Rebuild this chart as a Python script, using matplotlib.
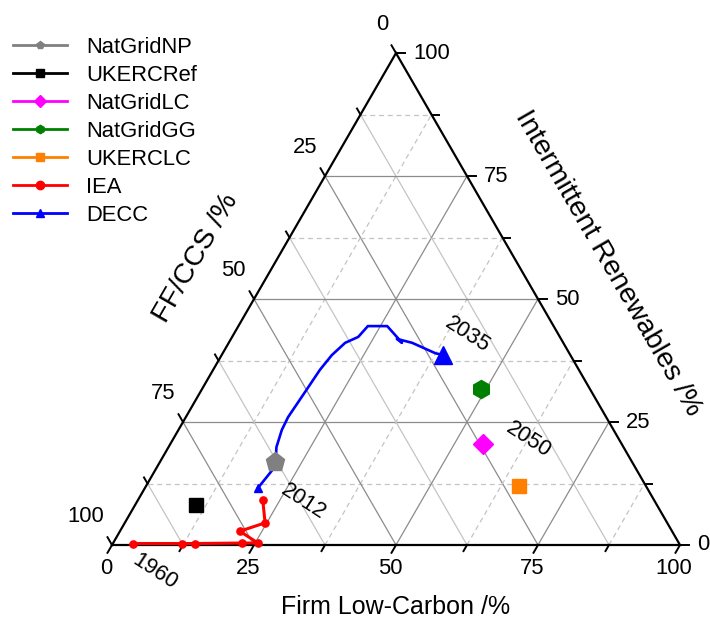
import numpy as np
import matplotlib
matplotlib.use("Agg")
import matplotlib.pyplot as plt

plt.rcParams['font.family'] = ['Liberation Sans', 'DejaVu Sans']

# ---------------- data (Firm Low-Carbon %, Intermittent Renewables %) ----------------
natgridnp_firm = [20.3]
natgridnp_renew = [16.9]
ukercref_firm = [10.7]
ukercref_renew = [8.1]
natgridlc_firm = [55.1]
natgridlc_renew = [20.5]
natgridgg_firm = [49.1]
natgridgg_renew = [31.7]
ukerclc_firm = [65.7]
ukerclc_renew = [12.0]
iea_firm = [3.6, 12.2, 14.4, 22.7, 25.5, 21.1, 24.7, 22.0]
iea_renew = [0.3, 0.3, 0.3, 0.4, 0.4, 2.8, 4.5, 9.1]
decc_firm = [19.9, 20.6, 20.0, 19.0, 18.2, 18.0, 18.5, 18.8, 19.4, 20.5, 22.2, 22.8,
             26.2, 29.0, 30.5, 29.2, 32.3, 37.4, 39.0]
decc_renew = [11.6, 15.2, 17.7, 19.9, 23.4, 26.0, 31.9, 35.6, 38.6, 41.1, 42.3, 44.5,
              44.5, 42.3, 41.1, 41.9, 41.1, 39.0, 38.6]

ticks = [0, 12.5, 25, 37.5, 50, 62.5, 75, 87.5, 100]
major_ticks = [0, 25, 50, 75, 100]
year_labels = ['1960', '2012', '2035', '2050']

S3 = np.sqrt(3) / 2


def tern(firm, renew):
    f = np.asarray(firm, dtype=float) / 100.0
    r = np.asarray(renew, dtype=float) / 100.0
    return f + r / 2.0, r * S3


# ---------------- figure ----------------
W, H = 710, 623
fig = plt.figure(figsize=(W / 100, H / 100), dpi=100)
ax = fig.add_axes([0, 0, 1, 1])
SC = 568.0
X0, Y0 = 112.0, 545.0
ax.set_xlim(-X0 / SC, (W - X0) / SC)
ax.set_ylim(-(H - Y0) / SC, Y0 / SC)
ax.axis('off')


def P(dx):
    return dx / SC


fs = 15.8   # 22 px
fs_title = 18.0
fs_title_rot = 20.5

major_c = '#8c8c8c'
minor_c = '#c4c4c4'

# grid lines
for v in ticks[1:-1]:
    major = (v % 25 == 0)
    col = major_c if major else minor_c
    # constant renewables (horizontal)
    x, y = tern([0, 100 - v], [v, v])
    ax.plot(x, y, color=col, lw=0.9, ls='-' if major else (0, (4, 3)), zorder=1)
    # constant firm
    x, y = tern([v, v], [0, 100 - v])
    ax.plot(x, y, color=col, lw=0.9, ls='-' if major else (0, (4, 3)), zorder=1)
    # constant fossil
    x, y = tern([100 - v, 0], [0, 100 - v])
    ax.plot(x, y, color=col, lw=0.9, ls='-', zorder=1)

# triangle edges
x, y = tern([0, 100, 0, 0], [0, 0, 100, 0])
ax.plot(x, y, color='black', lw=1.6, zorder=5, solid_joinstyle='miter')

# ticks
for v in ticks:
    L = P(9) if v in major_ticks else P(7)
    bx, by = tern(v, 0)
    ax.plot([bx, bx - L * 0.5], [by, by - L * S3], color='black', lw=1.4, zorder=5)
    rx, ry = tern(100 - v, v)
    ax.plot([rx, rx + L], [ry, ry], color='black', lw=1.4, zorder=5)
    lx, ly = tern(0, 100 - v)
    ax.plot([lx, lx - L * 0.5], [ly, ly + L * S3], color='black', lw=1.4, zorder=5)

for v in major_ticks:
    lab = f'{v:g}'
    bx, by = tern(v, 0)
    ax.text(bx - P(6), by - P(23), lab, fontsize=fs, ha='center', va='center')
    rx, ry = tern(100 - v, v)
    ax.text(rx + P(17), ry, lab, fontsize=fs, ha='left', va='center')
    lx, ly = tern(0, 100 - v)
    ax.text(lx - P(8), ly + P(29), lab, fontsize=fs, ha='right', va='center')

# axis titles
ax.text(P(396 - X0), P(Y0 - 607), 'Firm Low-Carbon /%', fontsize=fs_title,
        ha='center', va='center')
ax.text(P(196 - X0), P(Y0 - 258), 'FF/CCS /%', fontsize=fs_title_rot,
        ha='center', va='center', rotation=60, rotation_mode='anchor')
ax.text(P(608 - X0), P(Y0 - 263), 'Intermittent Renewables /%', fontsize=fs_title_rot,
        ha='center', va='center', rotation=-60, rotation_mode='anchor')

# series
x, y = tern(decc_firm, decc_renew)
l_decc, = ax.plot(x, y, color='#0000ff', lw=1.9, marker='^', markersize=13.5,
                  markevery=[len(x) - 1], label='DECC', zorder=6)
ax.plot(x[:1], y[:1], color='#0000ff', marker='^', markersize=6, ls='none', zorder=6)

x, y = tern(iea_firm, iea_renew)
l_iea, = ax.plot(x, y, color='#ff0000', lw=2.2, marker='o', markersize=5.2,
                 label='IEA', zorder=6)

x, y = tern(natgridnp_firm, natgridnp_renew)
l_np, = ax.plot(x, y, color='#808080', ls='-', lw=2, marker='p', markersize=14,
                label='NatGridNP', zorder=7)
x, y = tern(ukercref_firm, ukercref_renew)
l_ref, = ax.plot(x, y, color='black', ls='-', lw=2, marker='s', markersize=10,
                 label='UKERCRef', zorder=7)
x, y = tern(natgridlc_firm, natgridlc_renew)
l_lc, = ax.plot(x, y, color='#ff00ff', ls='-', lw=2, marker='D', markersize=10.5,
                label='NatGridLC', zorder=7)
x, y = tern(natgridgg_firm, natgridgg_renew)
l_gg, = ax.plot(x, y, color='#008000', ls='-', lw=2, marker='h', markersize=13,
                label='NatGridGG', zorder=7)
x, y = tern(ukerclc_firm, ukerclc_renew)
l_clc, = ax.plot(x, y, color='#ff8000', ls='-', lw=2, marker='s', markersize=10.5,
                 label='UKERCLC', zorder=7)

# year labels
year_pos = [(155, 572), (303, 502), (467, 335), (528, 440)]
for lab, (xp, yp) in zip(year_labels, year_pos):
    ax.text(P(xp - X0), P(Y0 - yp), lab, fontsize=fs, ha='center', va='center',
            rotation=-33, rotation_mode='anchor')

# legend
handles = [l_np, l_ref, l_lc, l_gg, l_clc, l_iea, l_decc]
leg = ax.legend(handles=handles, loc='upper left', numpoints=1,
                bbox_to_anchor=(13 / W, 1 - 37 / H), bbox_transform=fig.transFigure,
                frameon=False, borderpad=0, borderaxespad=0,
                handlelength=54 / 22, handletextpad=19 / 22, labelspacing=0.32,
                fontsize=fs)
for h in leg.legend_handles:
    h.set_markersize(6)
    h.set_markevery([1])
    h.set_linewidth(2)

fig.savefig('out.png', dpi=100)
